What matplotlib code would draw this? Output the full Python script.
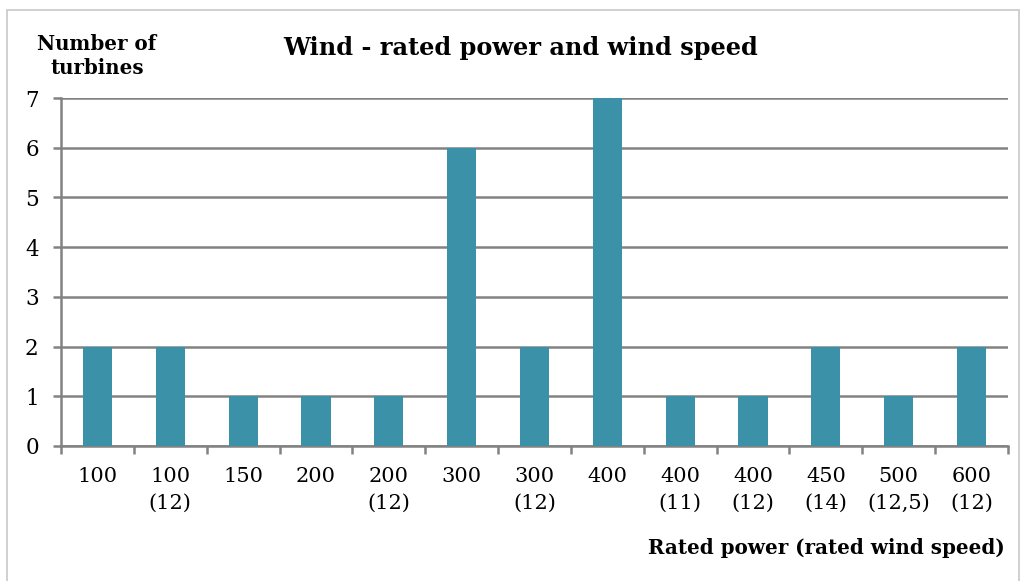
import matplotlib.pyplot as plt
import numpy as np
from matplotlib.patches import Rectangle

categories = ["100", "100\n(12)", "150", "200", "200\n(12)", "300", "300\n(12)",
              "400", "400\n(11)", "400\n(12)", "450\n(14)", "500\n(12,5)", "600\n(12)"]
turbines = [2, 2, 1, 1, 1, 6, 2, 7, 1, 1, 2, 1, 2]
yticks = [0, 1, 2, 3, 4, 5, 6, 7]

plt.rcParams['font.family'] = ['DejaVu Serif']
bar_color = '#3A91A8'
grid_color = '#828282'

fig = plt.figure(figsize=(10.22, 5.81), dpi=100)
ax = fig.add_axes([61 / 1022, 1 - 446 / 581, (1008 - 61) / 1022, (446 - 98) / 581])

x = np.arange(len(categories))
ax.bar(x, turbines, width=0.4, color=bar_color, zorder=3)

ax.set_xlim(-0.5, len(categories) - 0.5)
ax.set_ylim(0, 7)
ax.set_yticks(yticks)
ax.set_yticklabels([str(v) for v in yticks], fontsize=15.5)
ax.yaxis.grid(True, color=grid_color, linewidth=1.8, zorder=0)

ax.set_xticks(x)
ax.set_xticklabels(categories, fontsize=15, linespacing=1.5)
ax.set_xticks(np.arange(len(categories) + 1) - 0.5, minor=True)
ax.tick_params(axis='x', which='major', length=0, pad=15)
ax.tick_params(axis='x', which='minor', length=6, width=1.8, color=grid_color)
ax.tick_params(axis='y', length=6, width=1.8, color=grid_color, pad=10)

for side in ['top', 'right']:
    ax.spines[side].set_visible(False)
for side in ['left', 'bottom']:
    ax.spines[side].set_color(grid_color)
    ax.spines[side].set_linewidth(1.8)

fig.text(521 / 1022, 1 - 48 / 581, "Wind - rated power and wind speed",
         ha='center', va='center', fontsize=17.3, fontweight='bold')
fig.text(97 / 1022, 1 - 56 / 581, "Number of\nturbines", ha='center', va='center',
         fontsize=14.3, fontweight='bold', linespacing=1.3)
fig.text(1005 / 1022, 1 - 548 / 581, "Rated power (rated wind speed)", ha='right',
         va='center', fontsize=14.3, fontweight='bold')

# outer frame of the chart area
fig.patches.append(Rectangle((7 / 1022, -0.01), (1019 - 7) / 1022, 1 - 10 / 581 + 0.01,
                             transform=fig.transFigure, fill=False,
                             edgecolor='#C8C8C8', linewidth=1.2))

fig.savefig('out.png', dpi=100)
